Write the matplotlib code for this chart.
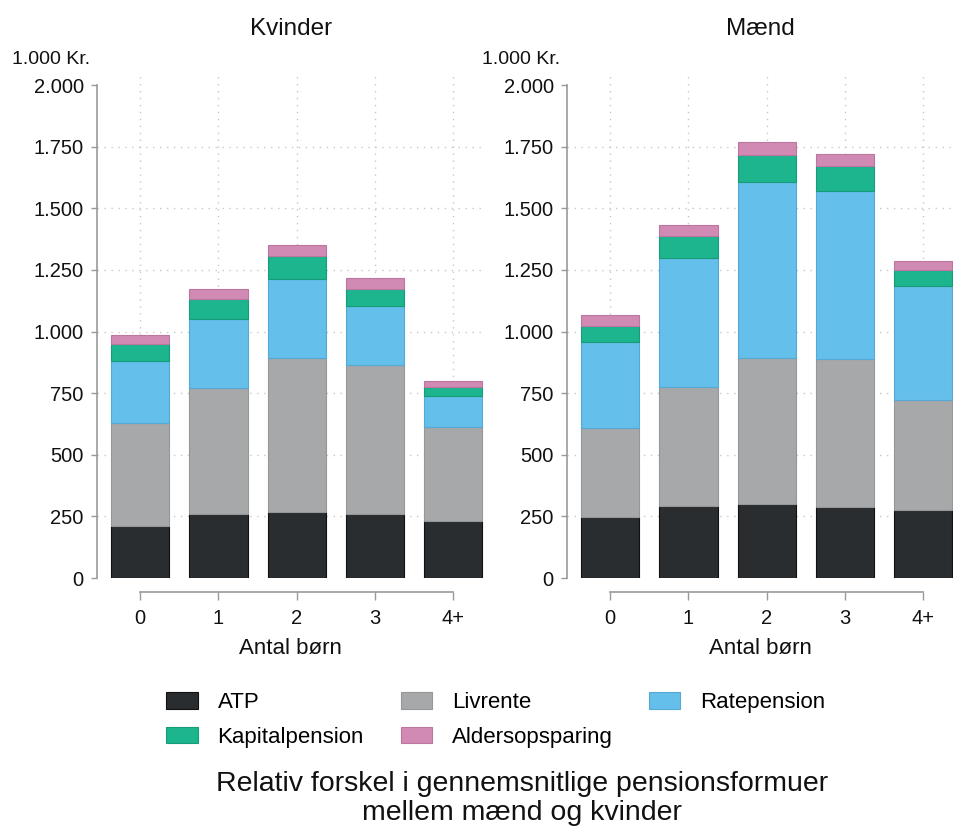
import matplotlib
matplotlib.use("Agg")
import matplotlib.pyplot as plt
import numpy as np

plt.rcParams['font.family'] = ['Liberation Sans', 'DejaVu Sans']

categories = ["0", "1", "2", "3", "4+"]
series_names = ["ATP", "Livrente", "Ratepension", "Kapitalpension", "Aldersopsparing"]

kvinder_atp = [209, 259, 268, 258, 233]
kvinder_livrente = [421, 512, 624, 606, 380]
kvinder_ratepension = [251, 279, 320, 240, 124]
kvinder_kapitalpension = [68, 81, 93, 70, 38]
kvinder_aldersopsparing = [37, 42, 48, 42, 26]

maend_atp = [247, 293, 300, 289, 274]
maend_livrente = [360, 481, 593, 600, 449]
maend_ratepension = [350, 526, 712, 681, 461]
maend_kapitalpension = [66, 88, 110, 102, 67]
maend_aldersopsparing = [43, 43, 53, 47, 37]

yticks = [0, 250, 500, 750, 1000, 1250, 1500, 1750, 2000]
ytick_labels = ["0", "250", "500", "750", "1.000", "1.250", "1.500", "1.750", "2.000"]

colors = ["#2a2d30", "#a6a8a9", "#64bfea", "#1db58e", "#d18ab4"]
edges = ["#111111", "#949697", "#55a9d2", "#169c79", "#bb77a0"]

fig = plt.figure(figsize=(9.54, 8.36), dpi=100)

W, H = 954.0, 836.0
ax_w = 387.6 / W
ax_b = 1 - 578 / H
ax_h = (578 - 76.4) / H
axL = fig.add_axes([97 / W, ax_b, ax_w, ax_h])
axR = fig.add_axes([567 / W, ax_b, ax_w, ax_h])

panels = [
    (axL, "Kvinder", [kvinder_atp, kvinder_livrente, kvinder_ratepension,
                      kvinder_kapitalpension, kvinder_aldersopsparing]),
    (axR, "Mænd", [maend_atp, maend_livrente, maend_ratepension,
                   maend_kapitalpension, maend_aldersopsparing]),
]

handles = None
for ax, title, data in panels:
    x = np.arange(len(categories))
    bottom = np.zeros(len(categories))
    hs = []
    for name, vals, c, e in zip(series_names, data, colors, edges):
        b = ax.bar(x, vals, width=0.745, bottom=bottom, color=c, edgecolor=e,
                   linewidth=0.8, label=name, zorder=3)
        hs.append(b)
        bottom += np.array(vals)
    handles = hs
    ax.set_xlim(-0.55, 4.4)
    ax.set_ylim(0, 2035)
    ax.set_xticks(x)
    ax.set_xticklabels(categories)
    ax.set_yticks(yticks)
    ax.set_yticklabels(ytick_labels)
    for s in ["top", "right"]:
        ax.spines[s].set_visible(False)
    ax.spines["left"].set_bounds(0, 2000)
    ax.spines["left"].set_color("#999999")
    ax.spines["left"].set_linewidth(1.2)
    ax.spines["bottom"].set_position(("outward", 10))
    ax.spines["bottom"].set_bounds(0, 4)
    ax.spines["bottom"].set_color("#999999")
    ax.spines["bottom"].set_linewidth(1.2)
    ax.tick_params(axis="y", length=4.5, width=1, color="#999999", pad=5,
                   labelcolor="#111111", labelsize=14.5)
    ax.tick_params(axis="x", length=5.5, width=1, color="#999999", pad=7,
                   labelcolor="#111111", labelsize=14.5)
    for yv in yticks[1:-1]:
        ax.axhline(yv, color="#c8c8c8", linestyle=(0, (1, 4)), linewidth=1.0, zorder=1)
    for xv in x:
        ax.axvline(xv, color="#c8c8c8", linestyle=(0, (1, 4)), linewidth=1.0, zorder=1)
    ax.set_xlabel("Antal børn", fontsize=16, color="#111111", labelpad=7)
    ax.set_title(title, fontsize=17.5, color="#111111", pad=0,
                 y=1.0 + (76.4 - 27) / (ax_h * H) - 0.016)
    ax.text(-85 / 387.6, 1.0 + (76.4 - 60) / (ax_h * H),
            "1.000 Kr.", transform=ax.transAxes, fontsize=14, color="#111111",
            ha="left", va="center")
    ax.set_facecolor("white")

# legend: arrange row-major in 3 columns
order = [0, 3, 1, 4, 2]
leg = fig.legend([handles[i] for i in order], [series_names[i] for i in order],
                 ncol=3, loc="center", bbox_to_anchor=(496 / W, 1 - 720 / H),
                 frameon=False, fontsize=16, handlelength=1.4, handleheight=0.75,
                 handletextpad=0.9, columnspacing=1.65, labelspacing=0.6, borderpad=0)

fig.text(522 / W, 1 - 791 / H, "Relativ forskel i gennemsnitlige pensionsformuer",
         ha="center", va="baseline", fontsize=20.5, color="#111111")
fig.text(522 / W, 1 - 820 / H, "mellem mænd og kvinder",
         ha="center", va="baseline", fontsize=20.5, color="#111111")

fig.savefig("out.png", dpi=100, facecolor="white")
